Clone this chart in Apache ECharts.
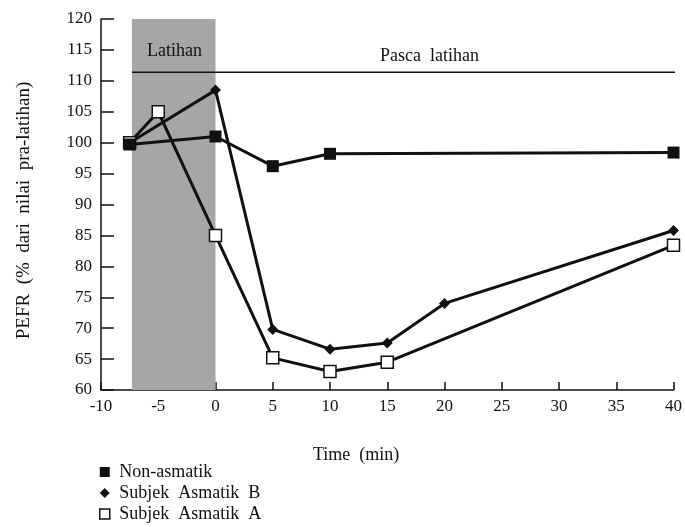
<!DOCTYPE html>
<html><head><meta charset="utf-8">
<script src="https://cdn.jsdelivr.net/npm/echarts@6/dist/echarts.min.js"></script>
<style>html,body{margin:0;padding:0;background:#fff}#c{width:685px;height:527px}</style>
</head><body><div id="c"></div>
<script>
var seriesNames = ['Non-asmatik', 'Subjek  Asmatik  B', 'Subjek  Asmatik  A'];
var timesNon = [-7.5, 0, 5, 10, 40];
var valsNon = [99.7, 101, 96.2, 98.2, 98.4];
var timesB = [-7.5, 0, 5, 10, 15, 20, 40];
var valsB = [100, 108.5, 69.8, 66.6, 67.6, 74, 85.8];
var timesA = [-7.5, -5, 0, 5, 10, 15, 40];
var valsA = [100, 105, 85, 65.2, 63, 64.5, 83.4];
var exercisePeriod = [-7.3, 0];
var postLineTimes = [-7.3, 41];
var postLineLevel = 111.4;
var xTicks = {min: -10, max: 40, step: 5};
var yTicks = {min: 60, max: 120, step: 5};

function pairs(xs, ys) { return xs.map(function (x, i) { return [x, ys[i]]; }); }
var FONT = "'Liberation Serif','DejaVu Serif',serif";
var chart = echarts.init(document.getElementById('c'), null, {renderer: 'canvas'});
chart.setOption({
  animation: false,
  backgroundColor: '#fff',
  grid: {left: 101, right: 10, top: 19, bottom: 137},
  xAxis: {
    type: 'value', min: xTicks.min, max: xTicks.max, interval: xTicks.step,
    axisLine: {onZero: false, lineStyle: {color: '#111', width: 1.5}},
    axisTick: {inside: true, length: 8, lineStyle: {color: '#111', width: 1.5}},
    axisLabel: {color: '#111', fontFamily: FONT, fontSize: 17, margin: 8},
    splitLine: {show: false}
  },
  yAxis: {
    type: 'value', min: yTicks.min, max: yTicks.max, interval: yTicks.step,
    name: 'PEFR  (%  dari  nilai  pra-latihan)', nameLocation: 'middle', nameGap: 67,
    nameTextStyle: {color: '#111', fontFamily: FONT, fontSize: 19, padding: [0, 12, 0, 0]},
    axisLine: {show: true, onZero: false, lineStyle: {color: '#111', width: 1.5}},
    axisTick: {show: true, inside: true, length: 13, lineStyle: {color: '#111', width: 1.5}},
    axisLabel: {color: '#111', fontFamily: FONT, fontSize: 17, margin: 9},
    splitLine: {show: false}
  },
  legend: {
    orient: 'vertical', left: 99, top: 463, padding: 0, itemWidth: 10, itemHeight: 10, itemGap: 3,
    formatter: ' {name}',
    textStyle: {color: '#111', fontFamily: FONT, fontSize: 18},
    data: [
      {name: seriesNames[0], icon: 'rect', itemStyle: {color: '#111', borderWidth: 0}},
      {name: seriesNames[1], icon: 'diamond', itemStyle: {color: '#111', borderWidth: 0}},
      {name: seriesNames[2], icon: 'rect', itemStyle: {color: '#fff', borderColor: '#111', borderWidth: 1.5}}
    ]
  },
  graphic: [
    {type: 'text', z: 100, left: 147, top: 42, style: {text: 'Latihan', fill: '#111', font: '18px ' + FONT}},
    {type: 'text', z: 100, left: 380, top: 47, style: {text: 'Pasca  latihan', fill: '#111', font: '18px ' + FONT}},
    {type: 'text', z: 100, left: 313, top: 446, style: {text: 'Time  (min)', fill: '#111', font: '18px ' + FONT}}
  ],
  series: [
    {
      name: 'postLine', type: 'line', data: pairs(postLineTimes, [postLineLevel, postLineLevel]),
      symbol: 'none', clip: false, silent: true, z: 2,
      lineStyle: {color: '#111', width: 1.5},
      markArea: {
        silent: true, z: 1,
        itemStyle: {color: '#a6a6a6'},
        data: [[{coord: [exercisePeriod[0], yTicks.min]}, {coord: [exercisePeriod[1], yTicks.max]}]]
      }
    },
    {
      name: seriesNames[1], type: 'line', data: pairs(timesB, valsB),
      symbol: 'diamond', symbolSize: 11, z: 3,
      lineStyle: {color: '#111', width: 3}, itemStyle: {color: '#111'}
    },
    {
      name: seriesNames[2], type: 'line', data: pairs(timesA, valsA),
      symbol: 'rect', symbolSize: 12, z: 4,
      lineStyle: {color: '#111', width: 3},
      itemStyle: {color: '#fff', borderColor: '#111', borderWidth: 1.5}
    },
    {
      name: seriesNames[0], type: 'line', data: pairs(timesNon, valsNon),
      symbol: 'rect', symbolSize: 12, z: 5,
      lineStyle: {color: '#111', width: 3}, itemStyle: {color: '#111'}
    }
  ]
});
</script></body></html>
